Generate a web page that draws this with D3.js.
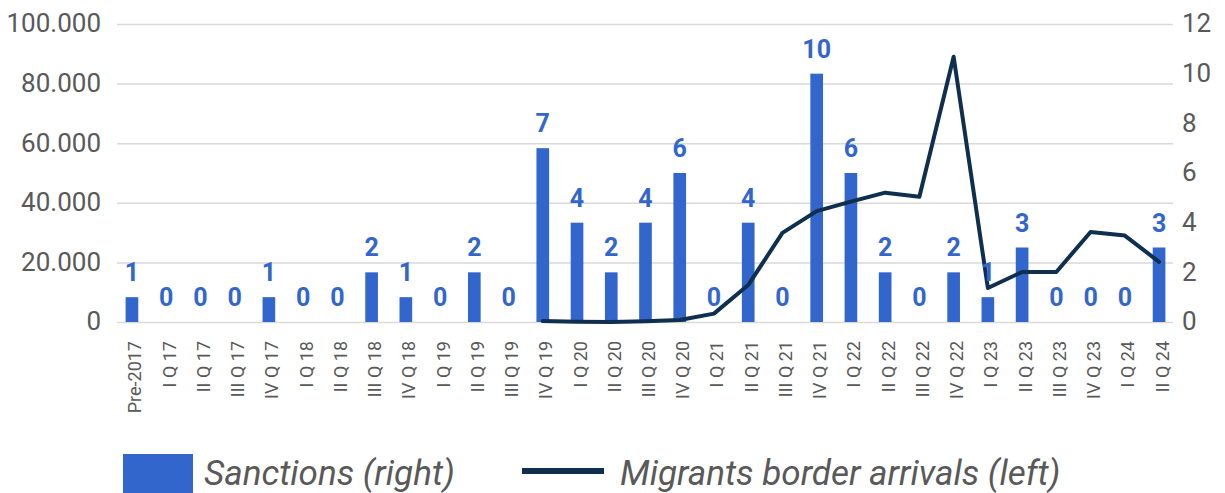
<!DOCTYPE html>
<html>
<head>
<meta charset="utf-8">
<script src="https://cdn.jsdelivr.net/npm/d3@7"></script>
<style>
  html, body { margin: 0; padding: 0; background: #ffffff; }
  svg { display: block; font-family: Roboto, "Noto Sans", sans-serif; }
</style>
</head>
<body>
<svg id="chart" width="1225" height="493"></svg>
<script>
// Quarter labels along the x axis
const categories = [
  "Pre-2017",
  "I Q 17", "II Q 17", "III Q 17", "IV Q 17",
  "I Q 18", "II Q 18", "III Q 18", "IV Q 18",
  "I Q 19", "II Q 19", "III Q 19", "IV Q 19",
  "I Q 20", "II Q 20", "III Q 20", "IV Q 20",
  "I Q 21", "II Q 21", "III Q 21", "IV Q 21",
  "I Q 22", "II Q 22", "III Q 22", "IV Q 22",
  "I Q 23", "II Q 23", "III Q 23", "IV Q 23",
  "I Q 24", "II Q 24"
];

// Sanctions per period (right axis)
const sanctions = [
  1,
  0, 0, 0, 1,
  0, 0, 2, 1,
  0, 2, 0, 7,
  4, 2, 4, 6,
  0, 4, 0, 10,
  6, 2, 0, 2,
  1, 3, 0, 0,
  0, 3
];

// Migrants border arrivals (left axis), reported from IV Q 19 onwards
const arrivalCategories = [
  "IV Q 19",
  "I Q 20", "II Q 20", "III Q 20", "IV Q 20",
  "I Q 21", "II Q 21", "III Q 21", "IV Q 21",
  "I Q 22", "II Q 22", "III Q 22", "IV Q 22",
  "I Q 23", "II Q 23", "III Q 23", "IV Q 23",
  "I Q 24", "II Q 24"
];
const arrivals = [
  300,
  100, 0, 250, 700,
  2800, 12400, 29900, 37200,
  40400, 43400, 42000, 89000,
  11400, 16800, 16800, 30200,
  29000, 20200
];

const leftTicks = [0, 20000, 40000, 60000, 80000, 100000];
const leftTickLabels = ["0", "20.000", "40.000", "60.000", "80.000", "100.000"];
const rightTicks = [0, 2, 4, 6, 8, 10, 12];

const legendLabels = ["Sanctions (right)", "Migrants border arrivals (left)"];

const BAR_BLUE = "#3366cc";
const LINE_NAVY = "#0f2f4f";
const TEXT_GREY = "#595959";
const GRID_GREY = "#d9d9d9";

const svg = d3.select("#chart");

const plot = { left: 115, right: 1176, top: 24, bottom: 322 };

const x = d3.scaleBand()
  .domain(categories)
  .range([plot.left, plot.right])
  .paddingInner(0.63)
  .paddingOuter(0.31);

const yLeft = d3.scaleLinear().domain([0, 100000]).range([plot.bottom, plot.top]);
const yRight = d3.scaleLinear().domain([0, 12]).range([plot.bottom, plot.top]);

// Horizontal gridlines
svg.append("g")
  .selectAll("line")
  .data(leftTicks)
  .join("line")
  .attr("x1", 117)
  .attr("x2", 1173)
  .attr("y1", d => yLeft(d) + 0.5)
  .attr("y2", d => yLeft(d) + 0.5)
  .attr("stroke", GRID_GREY)
  .attr("stroke-width", 1.5);

// Left axis
const leftAxis = svg.append("g")
  .attr("transform", "translate(101,0)")
  .call(d3.axisLeft(yLeft)
    .tickValues(leftTicks)
    .tickFormat((d, i) => leftTickLabels[i])
    .tickSize(0)
    .tickPadding(0));
leftAxis.select(".domain").remove();
leftAxis.selectAll("text")
  .attr("fill", TEXT_GREY)
  .style("font-family", "Roboto, sans-serif")
  .style("font-size", "26px")
  .attr("dy", "0.3em");

// Right axis
const rightAxis = svg.append("g")
  .attr("transform", "translate(1182,0)")
  .call(d3.axisRight(yRight)
    .tickValues(rightTicks)
    .tickFormat(d3.format("d"))
    .tickSize(0)
    .tickPadding(0));
rightAxis.select(".domain").remove();
rightAxis.selectAll("text")
  .attr("fill", TEXT_GREY)
  .style("font-family", "Roboto, sans-serif")
  .style("font-size", "26px")
  .attr("dy", "0.3em");

// Bottom axis with rotated quarter labels
const bottomAxis = svg.append("g")
  .attr("transform", `translate(0,${plot.bottom})`)
  .call(d3.axisBottom(x).tickSize(0).tickPadding(0));
bottomAxis.select(".domain").remove();
bottomAxis.selectAll("text")
  .attr("fill", TEXT_GREY)
  .style("font-family", "Roboto, sans-serif")
  .style("font-size", "18px")
  .attr("text-anchor", "end")
  .attr("dy", null)
  .attr("y", 0)
  .attr("transform", "translate(3,19) rotate(-90)")
  .attr("dominant-baseline", "central");

// Sanctions bars
const barData = categories.map((c, i) => ({ cat: c, value: sanctions[i] }));
svg.append("g")
  .selectAll("rect")
  .data(barData)
  .join("rect")
  .attr("x", d => x(d.cat))
  .attr("width", x.bandwidth())
  .attr("y", d => yRight(d.value))
  .attr("height", d => yRight(0) - yRight(d.value))
  .attr("fill", BAR_BLUE);

// Migrants line
const lineData = arrivalCategories.map((c, i) => ({ cat: c, value: arrivals[i] }));
const line = d3.line()
  .x(d => x(d.cat) + x.bandwidth() / 2)
  .y(d => yLeft(d.value))
  .curve(d3.curveLinear);
svg.append("path")
  .datum(lineData)
  .attr("d", line)
  .attr("fill", "none")
  .attr("stroke", LINE_NAVY)
  .attr("stroke-width", 4)
  .attr("stroke-linejoin", "round")
  .attr("stroke-linecap", "round");

// Value labels above the bars
svg.append("g")
  .selectAll("text")
  .data(barData)
  .join("text")
  .attr("x", d => x(d.cat) + x.bandwidth() / 2)
  .attr("y", d => yRight(d.value) - 16)
  .attr("text-anchor", "middle")
  .attr("fill", BAR_BLUE)
  .style("font-family", "Roboto, sans-serif")
  .style("font-weight", "700")
  .style("font-size", "25px")
  .text(d => d.value);

// Legend
const legend = svg.append("g");
legend.append("rect")
  .attr("x", 123).attr("y", 454)
  .attr("width", 70).attr("height", 39)
  .attr("fill", BAR_BLUE);
legend.append("text")
  .attr("x", 204).attr("y", 485)
  .attr("fill", TEXT_GREY)
  .style("font-family", "Roboto, sans-serif")
  .style("font-style", "italic")
  .style("font-size", "35px")
  .text(legendLabels[0]);
legend.append("line")
  .attr("x1", 522).attr("x2", 604)
  .attr("y1", 471).attr("y2", 471)
  .attr("stroke", LINE_NAVY)
  .attr("stroke-width", 6);
legend.append("text")
  .attr("x", 620).attr("y", 485)
  .attr("fill", TEXT_GREY)
  .style("font-family", "Roboto, sans-serif")
  .style("font-style", "italic")
  .style("font-size", "35px")
  .text(legendLabels[1]);
</script>
</body>
</html>
